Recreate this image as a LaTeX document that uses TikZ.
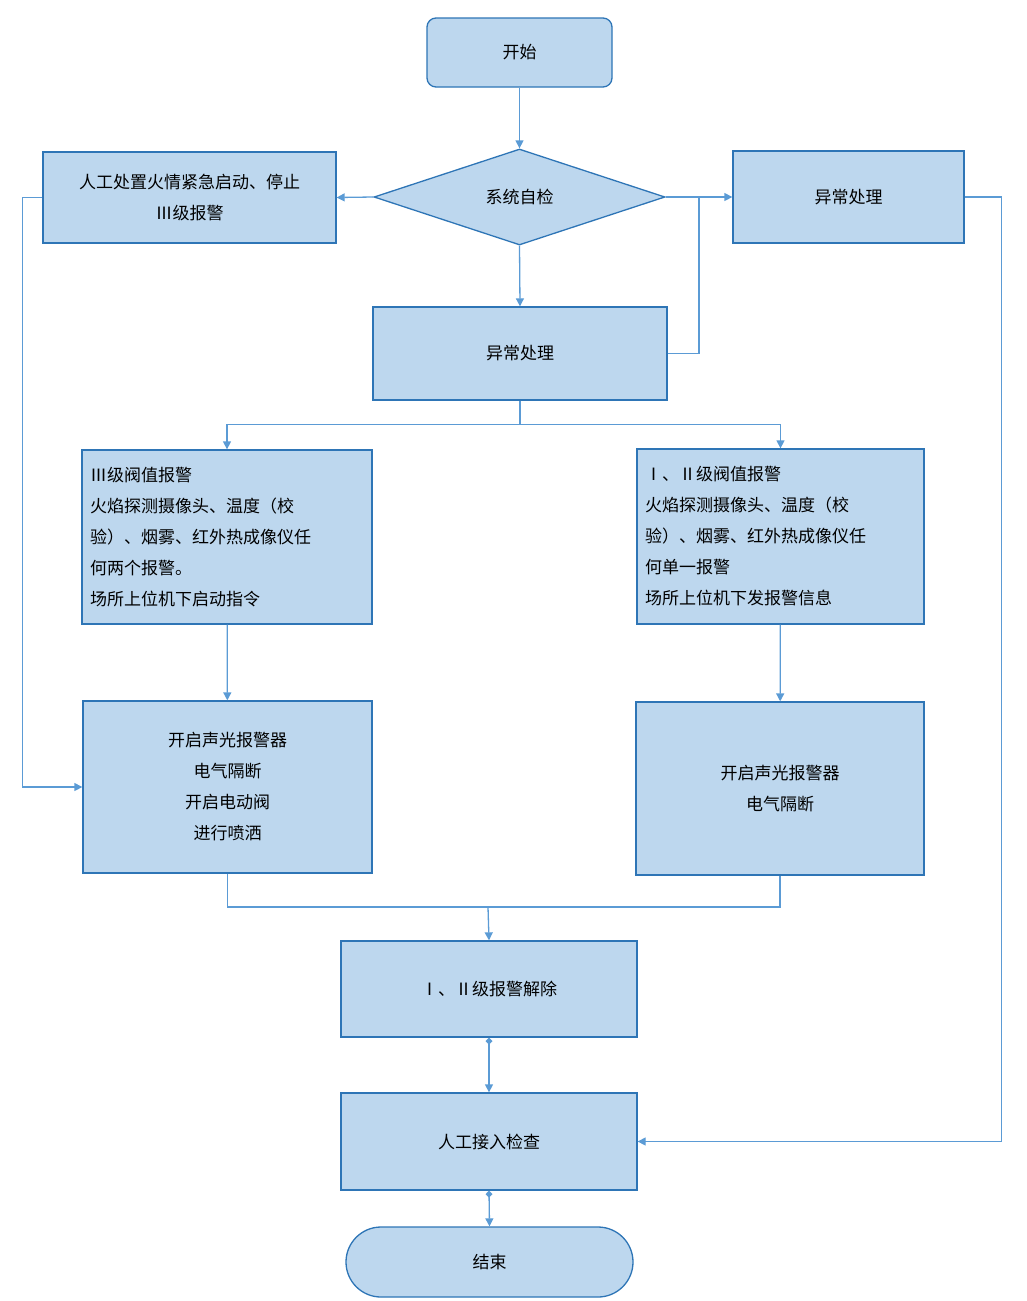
\documentclass[tikz,border=0pt]{standalone}
\usepackage{fontspec}
\setmainfont{Noto Sans CJK SC}
\usetikzlibrary{shapes.geometric,arrows.meta}
\definecolor{bfill}{HTML}{BDD7EE}
\definecolor{bdraw}{HTML}{2E75B6}
\definecolor{lcol}{HTML}{5B9BD5}
\tikzset{
 box/.style={draw=bdraw,fill=bfill,line width=1.3pt,inner sep=0pt,font=\fontsize{17}{31}\selectfont,align=center},
 conn/.style={draw=lcol,line width=1.3pt},
 arr/.style={conn,-{Triangle[length=8pt,width=8pt]}},
 dotarr/.style={conn,{Diamond[length=7pt,width=7pt]}-{Triangle[length=8pt,width=8pt]}}
}
\begin{document}
\begin{tikzpicture}[x=1pt,y=-1pt]
\useasboundingbox (0,0) rectangle (1026,1301);
\node[box,rounded corners=9pt,minimum width=185pt,minimum height=69pt] (start) at (519.5,52.5) {开始};
\node[box,diamond,aspect=3.03,minimum width=291pt,minimum height=96pt,inner sep=0pt] (chk) at (519.5,197) {系统自检};
\node[box,minimum width=293pt,minimum height=91pt] (man) at (189.5,197.5) {人工处置火情紧急启动、停止\\Ⅲ级报警};
\node[box,minimum width=231pt,minimum height=92pt] (abr) at (848.5,197) {异常处理};
\node[box,minimum width=294pt,minimum height=93pt] (abm) at (520,353.5) {异常处理};
\node[box,minimum width=290pt,minimum height=174pt,align=left,text width=274pt] (al3) at (227,537) {Ⅲ级阀值报警\\火焰探测摄像头、温度（校\\验）、烟雾、红外热成像仪任\\何两个报警。\\场所上位机下启动指令};
\node[box,minimum width=287pt,minimum height=175pt,align=left,text width=271pt] (al12) at (780.5,536.5) {Ⅰ、Ⅱ级阀值报警\\火焰探测摄像头、温度（校\\验）、烟雾、红外热成像仪任\\何单一报警\\场所上位机下发报警信息};
\node[box,minimum width=289pt,minimum height=172pt] (act3) at (227.5,787) {开启声光报警器\\电气隔断\\开启电动阀\\进行喷洒};
\node[box,minimum width=288pt,minimum height=173pt] (act12) at (780,788.5) {开启声光报警器\\电气隔断};
\node[box,minimum width=296pt,minimum height=96pt] (rel) at (489,989) {Ⅰ、Ⅱ级报警解除};
\node[box,minimum width=296pt,minimum height=97pt] (insp) at (489,1141.5) {人工接入检查};
\node[box,rounded corners=35pt,minimum width=287pt,minimum height=70pt] (end) at (489.5,1262) {结束};
\coordinate (j1) at (699,197);
\coordinate (j2) at (488,907);
\draw[arr] (start) -- (chk);
\draw[arr] (chk.west) -- (man.east);
\draw[arr] (chk.east) -- (abr.west);
\draw[conn] (abm.east) -| (j1);
\draw[arr] (chk.south) -- (abm.north);
\draw[arr] (abm.south) -- ++(0,24) -| (al3.north);
\draw[arr] (abm.south) -- ++(0,24) -| (al12.north);
\draw[arr] (al3) -- (act3);
\draw[arr] (al12) -- (act12);
\draw[arr] (man.west) -- ++(-20,0) |- (act3.west);
\draw[arr] (abr.east) -- ++(37,0) |- (insp.east);
\draw[conn] (act3.south) |- (j2) -| (act12.south);
\draw[arr] (j2) -- (rel.north);
\draw[dotarr] (rel.south) -- (insp.north);
\draw[dotarr] (insp.south) -- (end.north);
\end{tikzpicture}
\end{document}
